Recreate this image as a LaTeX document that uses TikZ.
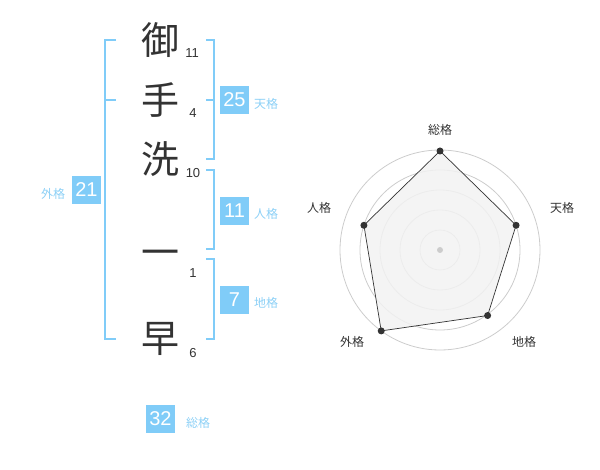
\documentclass[tikz,border=0pt]{standalone}
\usepackage{fontspec}
\setmainfont{Liberation Sans}
\newfontfamily\jp{Noto Sans CJK JP}
\usetikzlibrary{positioning,calc}

\definecolor{kakublue}{HTML}{80CCF8}
\definecolor{kakulabel}{HTML}{8CD0F6}
\definecolor{inkgray}{HTML}{333333}
\definecolor{ringgray}{HTML}{CCCCCC}
\definecolor{areagray}{HTML}{F2F2F2}

\begin{document}
\begin{tikzpicture}[x=1pt,y=1pt,
  kanji/.style={font=\jp\fontsize{38}{38}\selectfont, text=inkgray, inner sep=0pt},
  strokes/.style={font=\fontsize{13}{13}\selectfont, text=inkgray, inner sep=0pt},
  kakubox/.style={fill=kakublue, text=white, font=\fontsize{20}{20}\selectfont,
    minimum width=29pt, minimum height=28pt, inner sep=0pt},
  kakuname/.style={font=\jp\fontsize{12}{12}\selectfont, text=kakulabel, inner sep=0pt},
  bracket/.style={draw=kakublue, line width=1.6pt},
  ring/.style={draw=ringgray, line width=0.8pt},
  axisname/.style={font=\jp\fontsize{12}{12}\selectfont, text=inkgray, inner sep=0pt},
  dot/.style={circle, fill=inkgray, inner sep=0pt, minimum size=7pt}]
  \useasboundingbox (0,0) rectangle (600,-470);

  % Define the radar values (radius in pt)
  \newcommand{\Sou}{99}    % 総格
  \newcommand{\Ten}{80}    % 天格
  \newcommand{\Chi}{81}    % 地格
  \newcommand{\Gai}{100}   % 外格
  \newcommand{\Jin}{80}    % 人格

  % Name characters and strokes
  \node[kanji] (c1) at (160,-40) {御};
  \node[kanji] (c2) at (160,-100) {手};
  \node[kanji] (c3) at (160,-159) {洗};
  \node[kanji] (c4) at (160,-258) {一};
  \node[kanji] (c5) at (160,-339) {早};
  \node[strokes] (s1) at (192,-53) {11};
  \node[strokes] (s2) at (193,-113) {4};
  \node[strokes] (s3) at (193,-173) {10};
  \node[strokes] (s4) at (193,-273) {1};
  \node[strokes] (s5) at (193,-353) {6};

  % Brackets
  \draw[bracket] (116,-40) -- (105,-40) -- (105,-339) -- (116,-339); % 外格
  \draw[bracket] (105,-100) -- (116,-100);
  \draw[bracket] (206,-40) -- (214,-40) -- (214,-159) -- (206,-159); % 天格
  \draw[bracket] (206,-100) -- (214,-100);
  \draw[bracket] (206,-170) -- (214,-170) -- (214,-249) -- (206,-249); % 人格
  \draw[bracket] (206,-259) -- (214,-259) -- (214,-339) -- (206,-339); % 地格

  % Scores
  \node[kakubox] (ten) at (234.5,-100) {25};
  \node[kakuname] (tenname) at (266,-104) {天格};
  \node[kakubox] (jin) at (234.5,-211) {11};
  \node[kakuname] (jinname) at (266,-214) {人格};
  \node[kakubox] (chi) at (234.5,-300) {7};
  \node[kakuname] (chiname) at (266,-303) {地格};
  \node[kakubox] (gai) at (86.5,-190) {21};
  \node[kakuname] (gainame) at (53,-194) {外格};
  \node[kakubox] (sou) at (160.5,-419) {32};
  \node[kakuname] (souname) at (198,-423) {総格};

  % Radar chart
  \begin{scope}[shift={(440,-250)}]
    \foreach \r in {20,40,...,100}
      \draw[ring] (0,0) circle (\r);
    \coordinate (pSou) at (90:\Sou);
    \coordinate (pTen) at (18:\Ten);
    \coordinate (pChi) at (-54:\Chi);
    \coordinate (pGai) at (-126:\Gai);
    \coordinate (pJin) at (162:\Jin);
    \filldraw[fill=areagray, fill opacity=0.85, draw=inkgray, line width=0.7pt]
      (pSou) -- (pTen) -- (pChi) -- (pGai) -- (pJin) -- cycle;
    \node[circle, fill=ringgray, inner sep=0pt, minimum size=6pt] (centre) at (0,0) {};
    \foreach \p in {pSou,pTen,pChi,pGai,pJin}
      \node[dot] (d\p) at (\p) {};
  \end{scope}

  % Labels
  \node[axisname] (aSou) at (440,-130) {総格};
  \node[axisname] (aTen) at (562,-208) {天格};
  \node[axisname] (aJin) at (319,-208) {人格};
  \node[axisname] (aChi) at (524,-342) {地格};
  \node[axisname] (aGai) at (352,-342) {外格};
\end{tikzpicture}
\end{document}
